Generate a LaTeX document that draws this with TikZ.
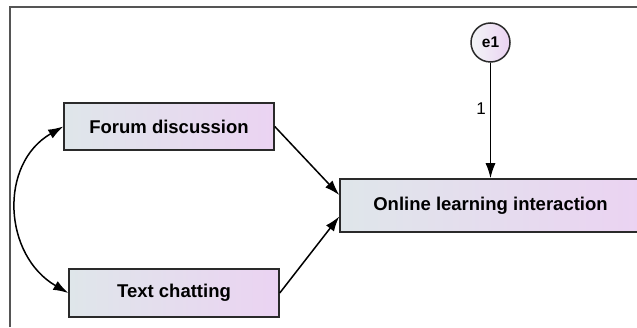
\documentclass[tikz,border=0pt]{standalone}
\usepackage{fontspec}
\setmainfont{Liberation Sans}
\usetikzlibrary{arrows.meta,calc}
\definecolor{boxleft}{HTML}{DFE6EA}
\definecolor{boxright}{HTML}{EBD3F2}
\definecolor{boxline}{HTML}{2A2A2A}
\definecolor{frameline}{HTML}{555555}
\begin{document}
\begin{tikzpicture}[x=1pt,y=1pt,
  obsbox/.style={draw=boxline,line width=1.5pt,left color=boxleft,right color=boxright,
    minimum width=210pt,minimum height=47pt,inner sep=0pt,
    font=\bfseries\fontsize{18.5}{20}\selectfont},
  errnode/.style={circle,draw=boxline,line width=1.5pt,left color=boxleft!40!white,right color=boxright,
    minimum size=39pt,inner sep=0pt,font=\bfseries\fontsize{15.5}{17}\selectfont},
  path/.style={line width=1.5pt,-{Latex[length=15pt,width=10pt]}},
  cov/.style={line width=1.5pt,{Latex[length=15pt,width=10pt]}-{Latex[length=15pt,width=10pt]}},
  wlabel/.style={font=\fontsize{17}{19}\selectfont,inner sep=0pt}]
\useasboundingbox (0,0) rectangle (637,327);
\clip (0,0) rectangle (637,327);
% frame
\draw[frameline,line width=2pt] (9.7,0) -- (9.7,319.7) -- (640,319.7);
% nodes
\node[obsbox] (fd) at (169,200.5) {Forum discussion};
\node[obsbox,minimum height=48pt] (tc) at (174,34) {Text chatting};
\node[obsbox,minimum width=301pt,minimum height=53pt] (ol) at (490.5,121.5) {Online learning interaction};
\node[errnode] (e1) at (490.5,284.5) {e1};
\coordinate (olin1) at ($(ol.west)+(0,10.5)$);
\coordinate (olin2) at ($(ol.west)+(0,-11)$);
% connectors
\draw[path] (e1) -- (ol) node[wlabel,pos=0.4,left=4pt] (w1) {1};
\draw[path] (fd.east) -- (olin1);
\draw[path] (tc.east) -- (olin2);
\draw[cov] (fd.west) to[out=210,in=150,looseness=1.15] (tc.west);
\end{tikzpicture}
\end{document}
